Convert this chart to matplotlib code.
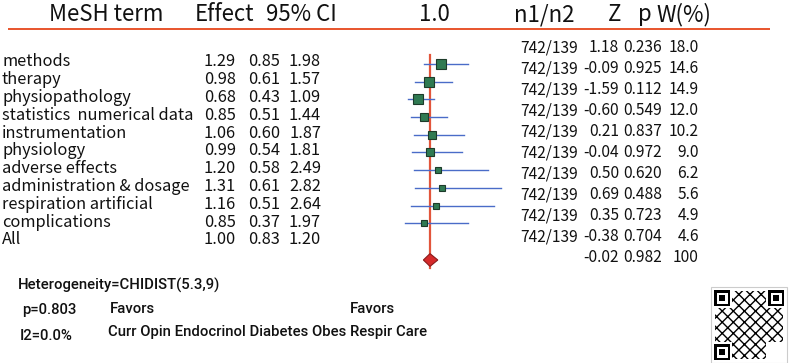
import numpy as np
import matplotlib.pyplot as plt
from matplotlib.transforms import blended_transform_factory
from matplotlib.patches import Polygon, Rectangle

plt.rcParams['font.family'] = ['Noto Sans CJK TC', 'DejaVu Sans']

### Data.

terms = ['methods', 'therapy', 'physiopathology', 'statistics  numerical data',
         'instrumentation', 'physiology', 'adverse effects',
         'administration & dosage', 'respiration artificial', 'complications']
effect = [1.29, 0.98, 0.68, 0.85, 1.06, 0.99, 1.20, 1.31, 1.16, 0.85]
ci_low = [0.85, 0.61, 0.43, 0.51, 0.60, 0.54, 0.58, 0.61, 0.51, 0.37]
ci_high = [1.98, 1.57, 1.09, 1.44, 1.87, 1.81, 2.49, 2.82, 2.64, 1.97]
n1n2 = ['742/139'] * 10
z_val = [1.18, -0.09, -1.59, -0.60, 0.21, -0.04, 0.50, 0.69, 0.35, -0.38]
p_val = [0.236, 0.925, 0.112, 0.549, 0.837, 0.972, 0.620, 0.488, 0.723, 0.704]
weight = [18.0, 14.6, 14.9, 12.0, 10.2, 9.0, 6.2, 5.6, 4.9, 4.6]

overall = {'effect': 1.00, 'low': 0.83, 'high': 1.20, 'z': -0.02, 'p': 0.982, 'w': 100}

### Figure.

W, H = 800, 363
fig = plt.figure(figsize=(W / 100, H / 100), dpi=100)
ax = fig.add_axes([0, 0, 1, 1])

# forest rows: row i at pixel 64 + 17.7*i, effect 1.0 at pixel 430, 39 px per unit
y0, dy = 64.0, 17.7
x1, dx = 430.0, 39.0
ax.set_xlim(1 - x1 / dx, 1 + (W - x1) / dx)
ax.set_ylim((H - y0) / dy, -y0 / dy)
ax.axis('off')

def yrow(pix):
    return (pix - y0) / dy

tr = blended_transform_factory(fig.transFigure, ax.transData)
def px(x):
    return x / W

red = '#e2553b'
ink = '#111111'

# header
hdr = [('MeSH term', 106), ('Effect', 224), ('95% CI', 301), ('1.0', 434),
       ('n1/n2', 544), ('Z', 615), ('p', 645), ('W(%)', 684)]
for txt, x in hdr:
    ax.text(px(x), yrow(15), txt, transform=tr, ha='center', va='center', fontsize=16,
            fontweight='medium', color=ink)
ax.plot([px(8), px(770)], [yrow(29), yrow(29)], transform=tr, color='#e8542c', lw=1.4,
        solid_capstyle='butt')

# left block (rows at 62 + 17.8*i)
def lcell(x, i, s, ha='right', fs=11.8):
    ax.text(px(x), yrow(62 + 17.8 * i), s, transform=tr, ha=ha, va='center',
            fontsize=fs, color=ink)

# right block (rows at 48 + 21*i)
def rcell(x, i, s):
    ax.text(px(x), yrow(48 + 21 * i), s, transform=tr, ha='right', va='center',
            fontsize=11.2, color=ink)

rows = list(range(len(terms)))
for i in rows:
    lcell(2, i, terms[i], ha='left', fs=11.8)
    lcell(236, i, '%.2f' % effect[i])
    lcell(280, i, '%.2f' % ci_low[i])
    lcell(321, i, '%.2f' % ci_high[i])
    rcell(578, i, n1n2[i])
    rcell(619, i, '%.2f' % z_val[i])
    rcell(662, i, '%.3f' % p_val[i])
    rcell(699, i, '%.1f' % weight[i])

k = len(terms)
lcell(2, k, 'All', ha='left', fs=11.8)
lcell(236, k, '%.2f' % overall['effect'])
lcell(280, k, '%.2f' % overall['low'])
lcell(321, k, '%.2f' % overall['high'])
rcell(619, k, '%.2f' % overall['z'])
rcell(662, k, '%.3f' % overall['p'])
rcell(699, k, '%d' % overall['w'])

# forest plot
ax.plot([1, 1], [yrow(55), yrow(268)], color=red, lw=1.6, zorder=1)
for i in rows:
    ax.plot([ci_low[i], ci_high[i]], [i, i], color='#4a6cc8', lw=1.0, zorder=2)
    ax.plot(effect[i], i, marker='s', ms=np.sqrt(weight[i]) * 1.7, mfc='#2f7a52',
            mec='#1d3b2a', mew=0.8, zorder=3)

dia_y = yrow(260)
ax.add_patch(Polygon([[overall['low'], dia_y], [overall['effect'], dia_y - 0.36],
                      [overall['high'], dia_y], [overall['effect'], dia_y + 0.36]],
                     closed=True, fc='#d62a2a', ec='#8a1a1a', lw=0.8, zorder=4))

# footer
def foot(x, y, s):
    ax.text(px(x), yrow(y), s, transform=tr, ha='left', va='center',
            fontsize=10.7, family=['Roboto', 'Liberation Sans'], fontweight='medium',
            color=ink)

foot(18, 285, 'Heterogeneity=CHIDIST(5.3,9)')
foot(22, 310, 'p=0.803')
foot(110, 309, 'Favors')
foot(350, 309, 'Favors')
foot(20, 336, 'I2=0.0%')
foot(108, 332, 'Curr Opin Endocrinol Diabetes Obes')
foot(350, 332, 'Respir Care')

# QR code placeholder (decorative)
qx, qy, qs = 714, 290, 70
tp = fig.transFigure
def box(x, y, w, h, **kw):
    fig.patches.append(Rectangle((x / W, 1 - (y + h) / H), w / W, h / H,
                                 transform=tp, **kw))
box(qx - 3, qy - 3, qs + 6, qs + 6, fc='white', ec='#cccccc', lw=0.8)
box(qx + 18, qy + 1, qs - 36, qs - 2, fc='white', ec='black', hatch='xxx', lw=0)
box(qx + 1, qy + 18, qs - 2, qs - 36, fc='white', ec='black', hatch='xxx', lw=0)
for fx, fy in [(qx, qy), (qx + qs - 16, qy), (qx, qy + qs - 16)]:
    box(fx, fy, 16, 16, fc='black', ec='none')
    box(fx + 2.5, fy + 2.5, 11, 11, fc='white', ec='none')
    box(fx + 5, fy + 5, 6, 6, fc='black', ec='none')

fig.savefig('out.png', dpi=100)
